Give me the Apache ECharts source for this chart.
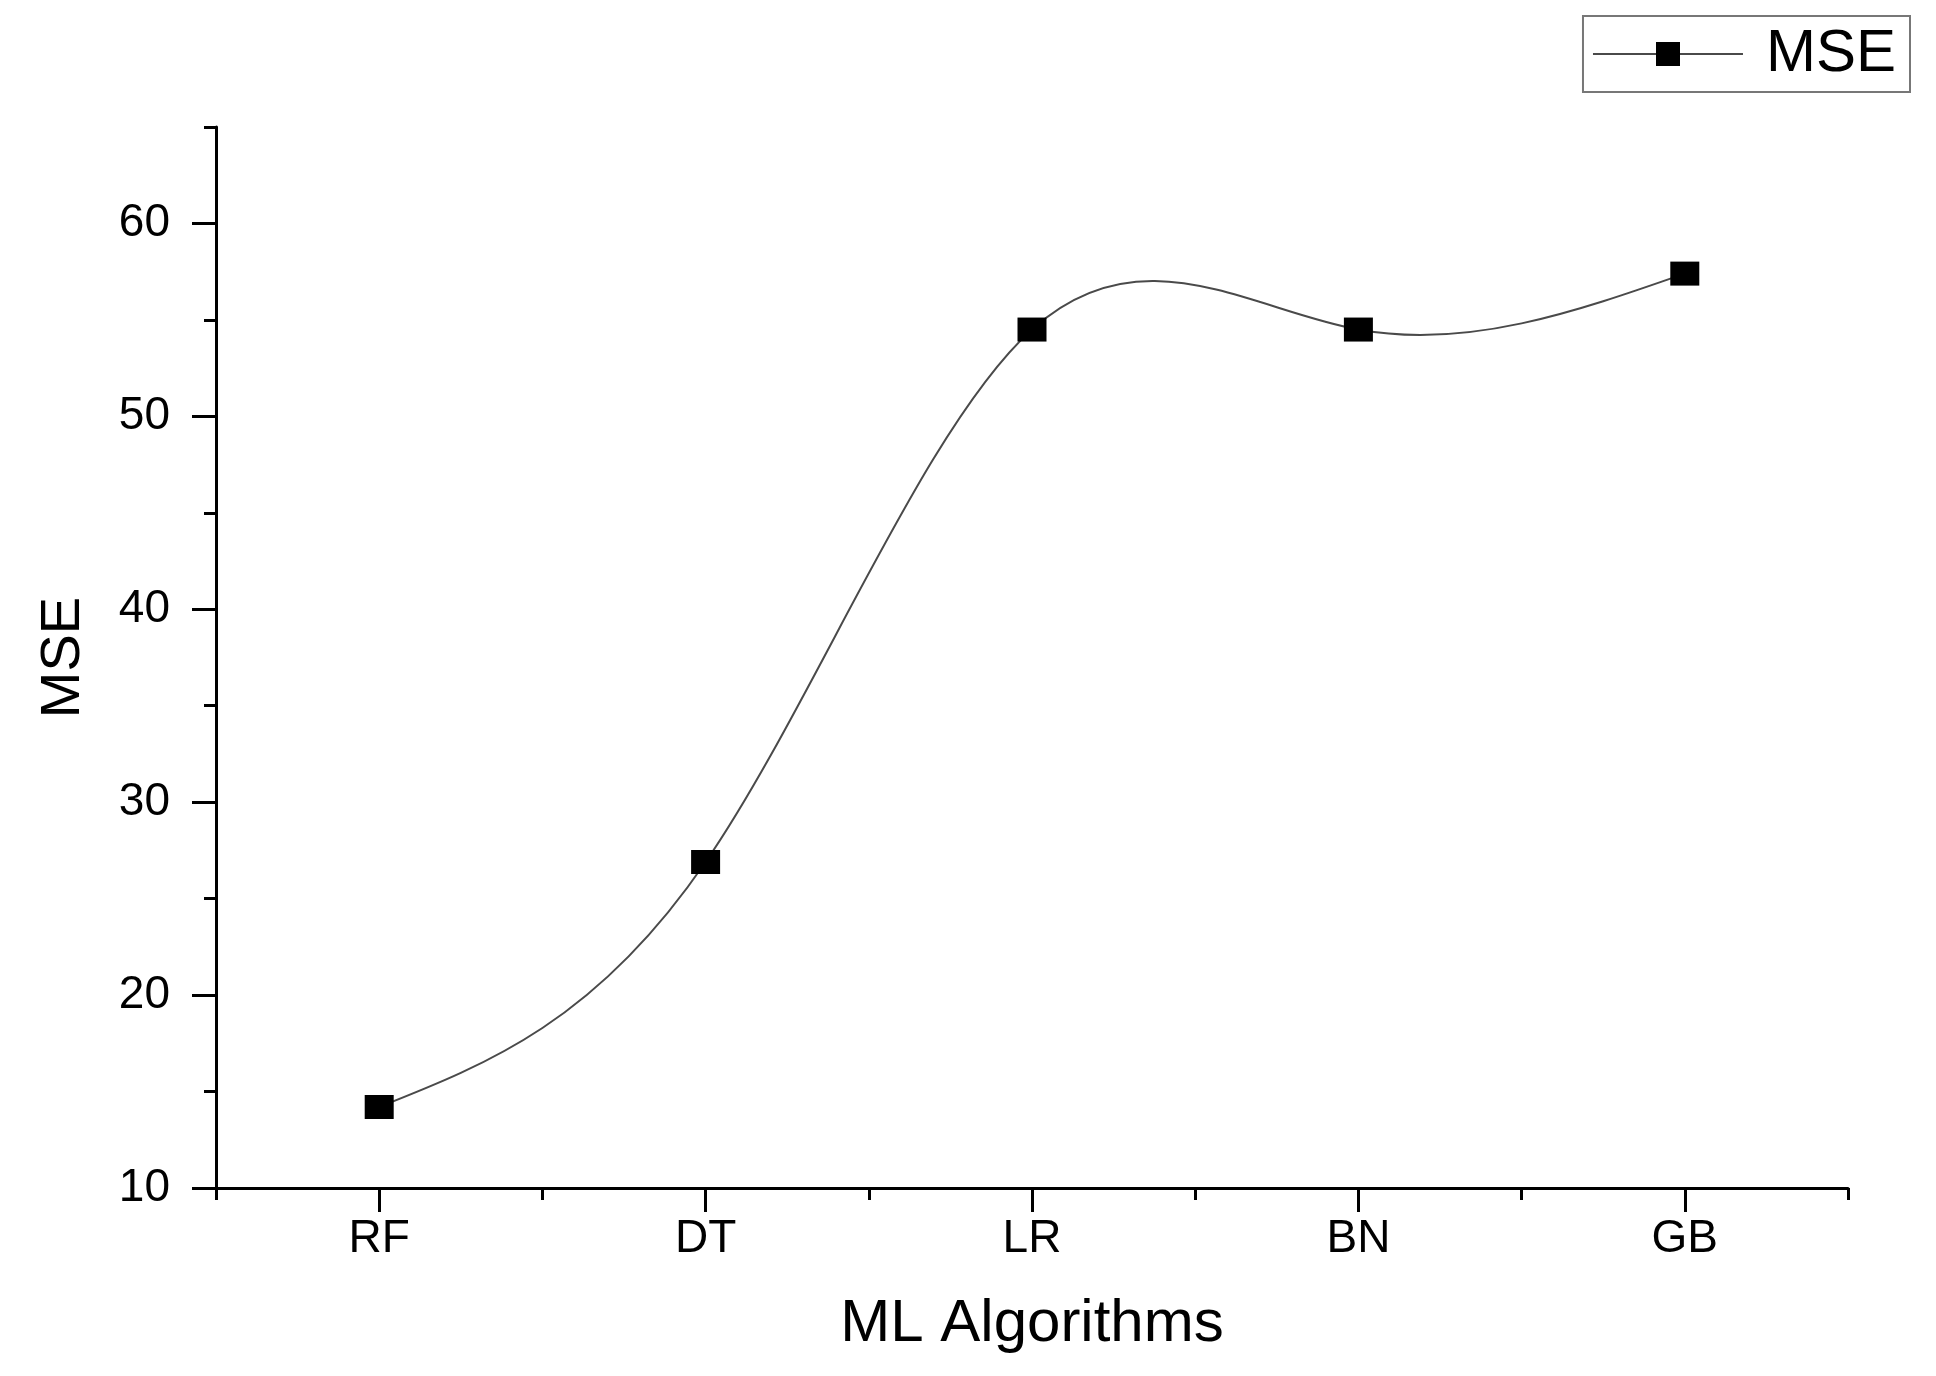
<!DOCTYPE html>
<html><head><meta charset="utf-8">
<script src="https://cdn.jsdelivr.net/npm/echarts@6/dist/echarts.min.js"></script>
<style>html,body{margin:0;padding:0;background:#fff}#c{width:1936px;height:1376px}</style>
</head><body><div id="c"></div>
<script>
const categories = ['RF', 'DT', 'LR', 'BN', 'GB'];
const mseValues = [14.2, 26.9, 54.5, 54.5, 57.4];
const yMajorTicks = [10, 20, 30, 40, 50, 60];
const yMinorTicks = [15, 25, 35, 45, 55, 65];
const seriesName = 'MSE';
const xAxisTitle = 'ML Algorithms';
const yAxisTitle = 'MSE';

const FONT = "'Liberation Sans', Arial, sans-serif";
const LINE_COLOR = '#4a4a4a';

// Natural cubic spline through the on-screen positions of the data points
function splinePath(pts) {
  const n = pts.length;
  if (n < 2) return '';
  const h = [];
  for (let i = 0; i < n - 1; i++) h.push(pts[i + 1][0] - pts[i][0]);
  const M = new Array(n).fill(0);
  if (n > 2) {
    const m = n - 2;
    const a = [], b = [], c = [], d = [];
    for (let k = 0; k < m; k++) {
      const i = k + 1;
      a.push(h[i - 1]);
      b.push(2 * (h[i - 1] + h[i]));
      c.push(h[i]);
      d.push(6 * ((pts[i + 1][1] - pts[i][1]) / h[i] - (pts[i][1] - pts[i - 1][1]) / h[i - 1]));
    }
    for (let k = 1; k < m; k++) {
      const w = a[k] / b[k - 1];
      b[k] -= w * c[k - 1];
      d[k] -= w * d[k - 1];
    }
    const sol = new Array(m);
    sol[m - 1] = d[m - 1] / b[m - 1];
    for (let k = m - 2; k >= 0; k--) sol[k] = (d[k] - c[k] * sol[k + 1]) / b[k];
    for (let k = 0; k < m; k++) M[k + 1] = sol[k];
  }
  let path = 'M' + pts[0][0] + ' ' + pts[0][1];
  for (let i = 0; i < n - 1; i++) {
    const x0 = pts[i][0], y0 = pts[i][1], x1 = pts[i + 1][0], y1 = pts[i + 1][1], hh = h[i];
    const s0 = (y1 - y0) / hh - hh * (2 * M[i] + M[i + 1]) / 6;
    const s1 = (y1 - y0) / hh + hh * (M[i] + 2 * M[i + 1]) / 6;
    path += ' C' + (x0 + hh / 3) + ' ' + (y0 + s0 * hh / 3) + ' ' +
      (x1 - hh / 3) + ' ' + (y1 - s1 * hh / 3) + ' ' + x1 + ' ' + y1;
  }
  return path;
}

const pairData = categories.map((c, i) => [c, mseValues[i]]);

const chart = echarts.init(document.getElementById('c'), null, {renderer: 'canvas'});
chart.setOption({
  backgroundColor: '#ffffff',
  animation: false,
  grid: {left: 216, right: 88, top: 127, bottom: 188, containLabel: false},
  legend: {
    show: true,
    right: 26, top: 16,
    orient: 'horizontal',
    padding: [8, 14, 8, 9],
    borderColor: '#777777', borderWidth: 2, borderRadius: 0,
    itemWidth: 150, itemHeight: 30,
    lineStyle: {color: LINE_COLOR, width: 2, opacity: 1},
    textStyle: {fontFamily: FONT, fontSize: 60, color: '#000', padding: [0, 0, 0, 18]},
    data: [seriesName]
  },
  xAxis: [{
    type: 'category', data: categories, boundaryGap: true, position: 'bottom',
    name: xAxisTitle, nameLocation: 'middle', nameGap: 106,
    nameTextStyle: {fontFamily: FONT, fontSize: 60, color: '#000'},
    axisLine: {show: true, lineStyle: {color: '#000', width: 3}},
    axisTick: {show: true, alignWithLabel: true, interval: 0, length: 24, lineStyle: {color: '#000', width: 3}},
    axisLabel: {show: true, interval: 0, margin: 28, fontFamily: FONT, fontSize: 46, color: '#000'},
    splitLine: {show: false}
  }, {
    type: 'category', data: categories, boundaryGap: true, position: 'bottom',
    axisLine: {show: false},
    axisTick: {show: true, interval: 0, length: 12, lineStyle: {color: '#000', width: 3}},
    axisLabel: {show: false},
    splitLine: {show: false}
  }],
  yAxis: [{
    type: 'value', min: 10, max: 65, position: 'left',
    name: yAxisTitle, nameLocation: 'middle', nameGap: 124, nameRotate: 90,
    nameTextStyle: {fontFamily: FONT, fontSize: 56, color: '#000'},
    axisLine: {show: true, lineStyle: {color: '#000', width: 3}},
    axisTick: {show: true, customValues: yMajorTicks, length: 24, lineStyle: {color: '#000', width: 3}},
    axisLabel: {show: true, customValues: yMajorTicks, margin: 46, fontFamily: FONT, fontSize: 46, color: '#000'},
    splitLine: {show: false}
  }, {
    type: 'value', min: 10, max: 65, position: 'left',
    axisLine: {show: false},
    axisTick: {show: true, customValues: yMinorTicks, length: 12, lineStyle: {color: '#000', width: 3}},
    axisLabel: {show: false},
    splitLine: {show: false}
  }],
  series: [{
    name: seriesName + ' curve', type: 'custom', xAxisIndex: 0, yAxisIndex: 0,
    data: pairData, encode: {x: 0, y: 1}, silent: true, z: 1,
    renderItem: function (params, api) {
      if (params.dataIndex !== 0) return {type: 'group', children: []};
      const n = params.dataInsideLength;
      const pts = [];
      for (let j = 0; j < n; j++) pts.push(api.coord([api.value(0, j), api.value(1, j)]));
      return {
        type: 'path',
        shape: {pathData: splinePath(pts)},
        style: {fill: 'none', stroke: LINE_COLOR, lineWidth: 2}
      };
    }
  }, {
    name: seriesName, type: 'line', xAxisIndex: 0, yAxisIndex: 0,
    data: mseValues, smooth: false, z: 3,
    symbol: 'rect', symbolSize: [29, 24], showAllSymbol: true,
    itemStyle: {color: '#000'},
    lineStyle: {color: LINE_COLOR, width: 2, opacity: 0}
  }]
});
</script></body></html>
